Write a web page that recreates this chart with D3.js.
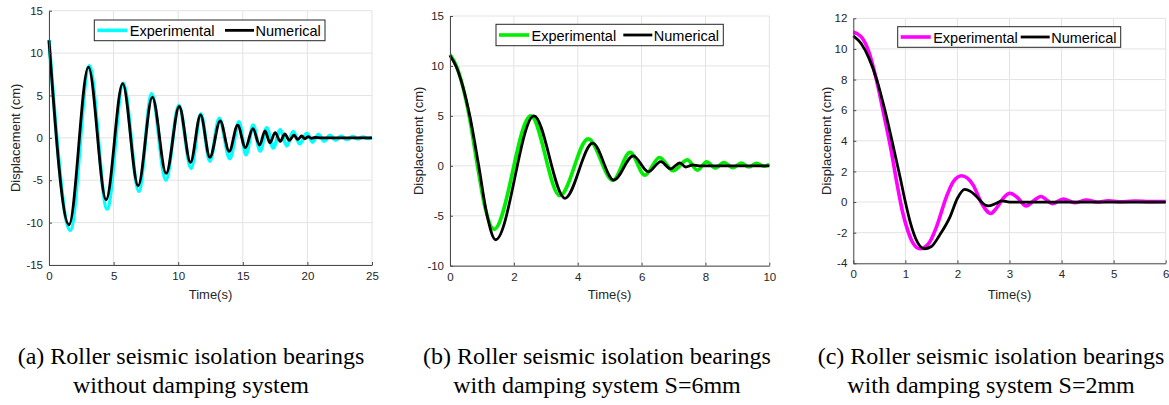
<!DOCTYPE html>
<html>
<head>
<meta charset="utf-8">
<script src="https://cdn.jsdelivr.net/npm/d3@7"></script>
<style>
  html, body { margin: 0; padding: 0; background: #ffffff; }
  svg { display: block; }
</style>
</head>
<body>
<svg id="chart" width="1169" height="405"></svg>
<script>
// ---------------- DATA ----------------
const seriesNames = ["Experimental", "Numerical"];

// Panel (a): without damping system
const timeA_exp = [0, 1.65, 3.12, 4.5, 5.75, 6.95, 7.95, 9.05, 10.05, 11.0, 11.75, 12.45, 13.18, 14.0, 14.7, 15.25, 15.8, 16.35, 16.85, 17.35, 17.9, 18.4, 18.9, 19.4, 19.96, 20.4, 20.85, 21.3, 21.75, 22.2, 22.6, 23.05, 23.5, 23.9, 24.3, 24.7, 25];
const dispA_exp = [11.55, -10.9, 8.5, -8.4, 6.45, -6.3, 5.2, -5.0, 3.85, -3.6, 2.85, -2.75, 2.3, -2.45, 1.9, -2.0, 1.5, -1.55, 1.2, -1.2, 0.95, -0.95, 0.75, -0.7, 0.55, -0.5, 0.4, -0.38, 0.3, -0.28, 0.22, -0.2, 0.15, -0.12, 0.1, -0.08, 0.05];
const timeA_num = [0, 1.55, 3.05, 4.42, 5.7, 6.9, 8.0, 9.07, 10.08, 10.95, 11.73, 12.45, 13.25, 13.95, 14.6, 15.2, 15.78, 16.3, 16.72, 17.1, 17.5, 17.9, 18.25, 18.6, 18.97, 19.25, 19.56, 19.8, 20.07, 20.3, 20.6, 21, 25];
const dispA_num = [11.5, -10.25, 8.35, -7.3, 6.4, -5.65, 4.8, -4.2, 3.7, -2.9, 2.7, -2.3, 2.0, -1.6, 1.5, -1.15, 1.1, -0.85, 0.82, -0.6, 0.62, -0.42, 0.46, -0.3, 0.33, -0.2, 0.22, -0.12, 0.14, -0.05, 0.04, 0, 0];
const xTicksA = [0, 5, 10, 15, 20, 25];
const yTicksA = [-15, -10, -5, 0, 5, 10, 15];

// Panel (b): damping system S=6mm
const timeB_exp = [0, 0.2, 0.6, 0.86, 1.1, 1.38, 2.53, 3.44, 4.33, 5.1, 5.64, 6.1, 6.56, 6.99, 7.43, 7.75, 8.04, 8.3, 8.58, 8.86, 9.12, 9.36, 9.6, 9.85, 10];
const dispB_exp = [11.15, 10.0, 5.0, 0.0, -4.2, -6.35, 5.0, -3.0, 2.7, -1.45, 1.35, -0.93, 0.84, -0.5, 0.6, -0.43, 0.4, -0.22, 0.32, -0.2, 0.28, -0.12, 0.26, -0.05, 0.15];
const timeB_num = [0, 0.2, 0.62, 0.9, 1.15, 1.43, 2.63, 3.6, 4.47, 5.13, 5.74, 6.21, 6.6, 6.91, 7.2, 7.38, 7.6, 7.8, 10];
const dispB_num = [11.05, 9.9, 5.0, 0.0, -4.8, -7.4, 5.0, -3.25, 2.27, -1.43, 1.0, -0.6, 0.42, -0.3, 0.3, -0.12, 0.08, 0, 0];
const xTicksB = [0, 2, 4, 6, 8, 10];
const yTicksB = [-10, -5, 0, 5, 10, 15];

// Panel (c): damping system S=2mm
const timeC_exp = [0, 0.15, 0.3, 0.45, 0.6, 0.72, 0.85, 0.95, 1.05, 1.15, 1.28, 1.45, 1.6, 1.79, 1.92, 2.08, 2.3, 2.46, 2.64, 2.75, 2.88, 3.01, 3.15, 3.32, 3.47, 3.6, 3.83, 4.03, 4.26, 4.48, 4.68, 4.9, 5.1, 5.4, 5.7, 6];
const dispC_exp = [11.1, 10.8, 9.8, 7.9, 5.5, 3.5, 1.0, -0.7, -1.9, -2.7, -3.05, -2.7, -1.6, 0.36, 1.33, 1.72, 1.12, -0.05, -0.75, -0.4, 0.25, 0.57, 0.3, -0.25, 0.1, 0.36, -0.1, 0.2, -0.04, 0.13, 0.0, 0.08, 0.02, 0.06, 0.03, 0.04];
const timeC_num = [0, 0.15, 0.3, 0.45, 0.6, 0.75, 0.9, 1.0, 1.1, 1.2, 1.36, 1.5, 1.66, 1.86, 2.0, 2.14, 2.25, 2.37, 2.53, 2.6, 2.75, 2.85, 3.0, 6];
const dispC_num = [10.85, 10.35, 9.4, 8.0, 6.1, 3.9, 1.6, 0.0, -1.4, -2.4, -3.05, -2.9, -2.15, -0.95, 0.25, 0.83, 0.7, 0.35, -0.19, -0.25, -0.08, 0.08, 0.0, 0];
const xTicksC = [0, 1, 2, 3, 4, 5, 6];
const yTicksC = [-4, -2, 0, 2, 4, 6, 8, 10, 12];

const captionsLine1 = ["(a) Roller seismic isolation bearings", "(b) Roller seismic isolation bearings", "(c) Roller seismic isolation bearings"];
const captionsLine2 = ["without damping system", "with damping system S=6mm", "with damping system S=2mm"];

// ---------------- LAYOUT ----------------
const panels = [
  { left: 49, right: 372, top: 10.7, bottom: 265, xDom: [0, 25], yDom: [-15, 15], xTicks: xTicksA, yTicks: yTicksA,
    exp: timeA_exp.map((t, i) => [t, dispA_exp[i]]), num: timeA_num.map((t, i) => [t, dispA_num[i]]),
    color: "#00ffff", legend: [94.3, 20, 325, 40.7], ylabX: 15, capX: 191 },
  { left: 450, right: 769.3, top: 16, bottom: 265.7, xDom: [0, 10], yDom: [-10, 15], xTicks: xTicksB, yTicks: yTicksB,
    exp: timeB_exp.map((t, i) => [t, dispB_exp[i]]), num: timeB_num.map((t, i) => [t, dispB_num[i]]),
    color: "#00ee00", legend: [496, 24.3, 723.3, 45.7], ylabX: 418, capX: 597 },
  { left: 853.3, right: 1165.7, top: 18.3, bottom: 263.3, xDom: [0, 6], yDom: [-4, 12], xTicks: xTicksC, yTicks: yTicksC,
    exp: timeC_exp.map((t, i) => [t, dispC_exp[i]]), num: timeC_num.map((t, i) => [t, dispC_num[i]]),
    color: "#ff00ff", legend: [897.7, 26.7, 1120.7, 47.3], ylabX: 826, capX: 991 }
];

const svg = d3.select("#chart");
const axisColor = "#4a4a4a";
const textColor = "#262626";
const gridColor = "#e3e3e3";
const sans = "'Liberation Sans', Arial, sans-serif";
const serif = "'Liberation Serif', 'Times New Roman', serif";

panels.forEach((p, k) => {
  const x = d3.scaleLinear().domain(p.xDom).range([p.left, p.right]);
  const y = d3.scaleLinear().domain(p.yDom).range([p.bottom, p.top]);
  const g = svg.append("g");

  // grid
  g.append("g").selectAll("line").data(p.xTicks).join("line")
    .attr("x1", d => x(d)).attr("x2", d => x(d)).attr("y1", p.top).attr("y2", p.bottom)
    .attr("stroke", gridColor).attr("stroke-width", 1);
  g.append("g").selectAll("line").data(p.yTicks).join("line")
    .attr("x1", p.left).attr("x2", p.right).attr("y1", d => y(d)).attr("y2", d => y(d))
    .attr("stroke", gridColor).attr("stroke-width", 1);

  // lines
  const line = d3.line().x(d => x(d[0])).y(d => y(d[1])).curve(d3.curveMonotoneX);
  g.append("path").datum(p.exp).attr("d", line).attr("fill", "none")
    .attr("stroke", p.color).attr("stroke-width", 3.6).attr("stroke-linejoin", "round");
  g.append("path").datum(p.num).attr("d", line).attr("fill", "none")
    .attr("stroke", "#000").attr("stroke-width", 2.8).attr("stroke-linejoin", "round");

  // axes
  const ax = g.append("g").attr("transform", `translate(0,${p.bottom})`)
    .call(d3.axisBottom(x).tickValues(p.xTicks).tickSizeInner(-3).tickSizeOuter(0).tickPadding(7).tickFormat(d3.format("d")));
  const ay = g.append("g").attr("transform", `translate(${p.left},0)`)
    .call(d3.axisLeft(y).tickValues(p.yTicks).tickSizeInner(-3).tickSizeOuter(0).tickPadding(6).tickFormat(d3.format("d")));
  [ax, ay].forEach(a => {
    a.select(".domain").attr("stroke", axisColor).attr("stroke-width", 1);
    a.selectAll(".tick line").attr("stroke", axisColor);
    a.selectAll(".tick text").attr("fill", textColor).style("font-family", sans).style("font-size", "11.5px");
  });
  ay.selectAll(".tick text").text(d => d < 0 ? "-" + Math.abs(d) : d);

  // axis labels
  g.append("text").attr("x", (p.left + p.right) / 2).attr("y", 299)
    .attr("text-anchor", "middle").attr("fill", textColor)
    .style("font-family", sans).style("font-size", "13px").text("Time(s)");
  g.append("text").attr("transform", `translate(${p.ylabX},${(p.top + p.bottom) / 2}) rotate(-90)`)
    .attr("text-anchor", "middle").attr("dominant-baseline", "central").attr("fill", textColor)
    .style("font-family", sans).style("font-size", "13px").text("Displacement (cm)");

  // legend
  const [lx0, ly0, lx1, ly1] = p.legend;
  const lg = g.append("g");
  lg.append("rect").attr("x", lx0).attr("y", ly0).attr("width", lx1 - lx0).attr("height", ly1 - ly0)
    .attr("fill", "#fff").attr("stroke", "#262626").attr("stroke-width", 1);
  const cy = (ly0 + ly1) / 2;
  const entries = [
    { name: seriesNames[0], color: p.color, w: 3.6, x0: lx0 + 3, x1: lx0 + 33, tx: lx0 + 35.5 },
    { name: seriesNames[1], color: "#000", w: 2.8, x0: lx1 - 100, x1: lx1 - 71, tx: lx1 - 69.5 }
  ];
  entries.forEach(e => {
    lg.append("line").attr("x1", e.x0).attr("x2", e.x1).attr("y1", cy).attr("y2", cy)
      .attr("stroke", e.color).attr("stroke-width", e.w);
    lg.append("text").attr("x", e.tx).attr("y", cy + 0.5).attr("dominant-baseline", "central")
      .attr("fill", "#000").style("font-family", sans).style("font-size", "14.5px").text(e.name);
  });

  // captions
  svg.append("text").attr("x", p.capX).attr("y", 364).attr("text-anchor", "middle")
    .attr("fill", "#000").style("font-family", serif)
    .style("font-size", "24px").text(captionsLine1[k]);
  svg.append("text").attr("x", p.capX).attr("y", 393).attr("text-anchor", "middle")
    .attr("fill", "#000").style("font-family", serif)
    .style("font-size", "24px").text(captionsLine2[k]);
});
</script>
</body>
</html>
